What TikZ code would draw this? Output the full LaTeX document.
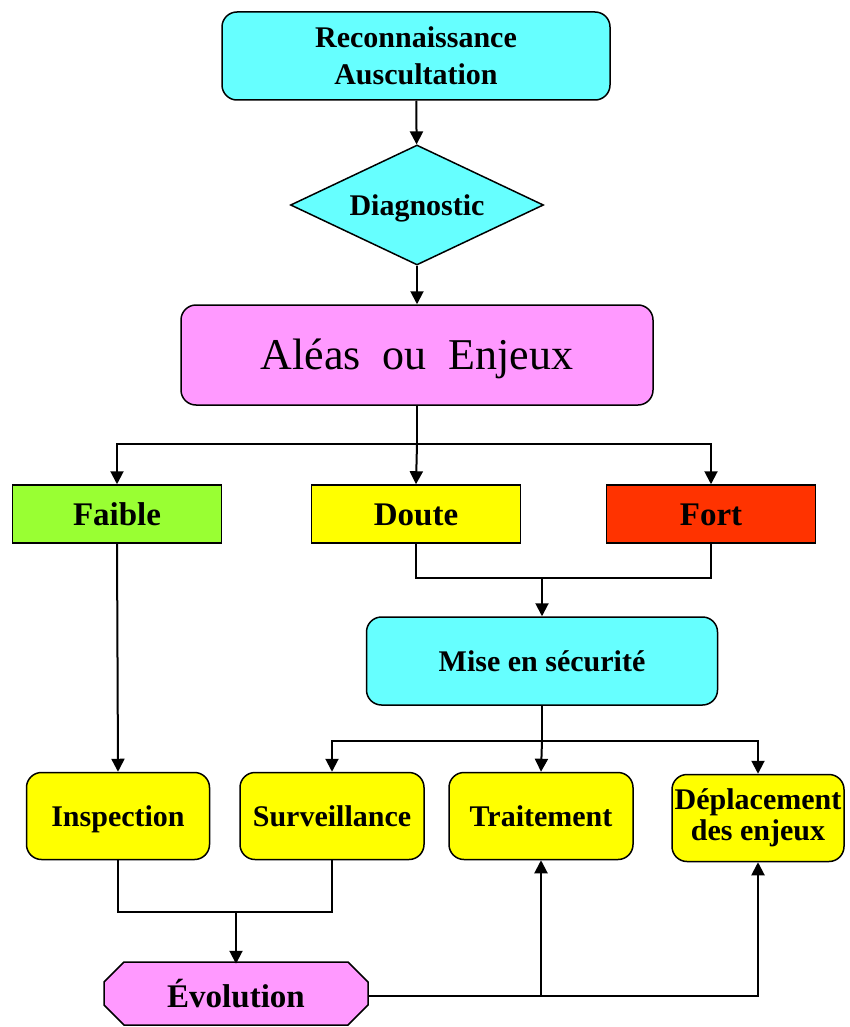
\documentclass[tikz,border=0pt]{standalone}
\usepackage{fontspec}
\setmainfont{Liberation Serif}
\usetikzlibrary{shapes.geometric,arrows.meta}
\definecolor{cyanbox}{HTML}{66FFFF}
\definecolor{pinkbox}{HTML}{FF99FF}
\definecolor{greenbox}{HTML}{99FF33}
\definecolor{yellowbox}{HTML}{FFFF00}
\definecolor{redbox}{HTML}{FF3300}
\begin{document}
\begin{tikzpicture}[x=1pt,y=-1pt]
    \tikzset{box/.style={draw,line width=1.5pt,rounded corners=15pt,align=center,inner sep=0pt,
                 font=\fontsize{30}{37}\selectfont\bfseries},
             one/.style={text height=#1,text depth=0pt},
             one/.default=20pt,
             flat/.style={box,one=22pt,rounded corners=0pt,minimum width=209pt,minimum height=58pt,
                 font=\fontsize{33}{38}\selectfont\bfseries},
             link/.style={line width=2pt,-{Triangle[width=13pt,length=13pt]}},
             wire/.style={line width=2pt}}
    \useasboundingbox (0,0) rectangle (850,1027);
    \node[box,fill=cyanbox,minimum width=388pt,minimum height=88pt] (reco) at (416,56)
        {Reconnaissance\\Auscultation};
    \node[box,one,diamond,rounded corners=0pt,fill=cyanbox,aspect=2.1,minimum width=253pt,minimum height=120pt]
        (diag) at (417,205) {Diagnostic};
    \node[box,one=29pt,fill=pinkbox,minimum width=472pt,minimum height=100pt,font=\fontsize{44}{50}\selectfont]
        (alea) at (417,355) {Aléas\hspace{22pt}ou\hspace{22pt}Enjeux};
    \node[flat,fill=greenbox] (faible) at (117,514) {Faible};
    \node[flat,fill=yellowbox] (doute) at (416,514) {Doute};
    \node[flat,fill=redbox] (fort) at (711,514) {Fort};
    \node[box,one,fill=cyanbox,minimum width=351pt,minimum height=88pt] (mise) at (542,661) {Mise en sécurité};
    \node[box,one,fill=yellowbox,minimum width=183pt,minimum height=87pt] (insp) at (118,816) {Inspection};
    \node[box,one,fill=yellowbox,minimum width=184pt,minimum height=87pt] (surv) at (332,816) {Surveillance};
    \node[box,one,fill=yellowbox,minimum width=184pt,minimum height=87pt] (trait) at (541,816) {Traitement};
    \node[box,fill=yellowbox,minimum width=172pt,minimum height=87pt,font=\fontsize{30}{31}\selectfont\bfseries]
        (depl) at (758,818) {Déplacement\\des enjeux};
    \draw[line width=1.5pt,fill=pinkbox] (124,962) -- (348,962) -- (368,982) -- (368,1005)
        -- (348,1025) -- (124,1025) -- (104,1005) -- (104,982) -- cycle;
    \node[box,one=22pt,draw=none,minimum width=264pt,minimum height=63pt,font=\fontsize{33}{38}\selectfont\bfseries]
        (evol) at (236,996) {Évolution};
    \draw[link] (reco) -- (diag);
    \draw[link] (diag) -- (alea);
    \draw[wire] (alea.south) -- ++(0,38) coordinate (split1);
    \draw[link] (split1) -| (faible.north);
    \draw[link] (split1) -- (doute.north);
    \draw[link] (split1) -| (fort.north);
    \coordinate (join1) at (0,578);
    \draw[wire] (doute.south) |- (fort.south |- join1) -- (fort.south);
    \draw[link] (mise.north |- join1) -- (mise.north);
    \draw[wire] (mise.south) -- ++(0,35) coordinate (split2);
    \draw[link] (split2) -| (surv.north);
    \draw[link] (split2) -- (trait.north);
    \draw[link] (split2) -| (depl.north);
    \draw[link] (faible.south) -- (insp.north);
    \coordinate (join2) at (0,912);
    \draw[wire] (insp.south) |- (surv.south |- join2) -- (surv.south);
    \draw[link] (evol.north |- join2) -- (evol.north);
    \draw[link] (evol.east) -| (depl.south);
    \draw[link] (trait.south |- evol.east) -- (trait.south);
\end{tikzpicture}
\end{document}
